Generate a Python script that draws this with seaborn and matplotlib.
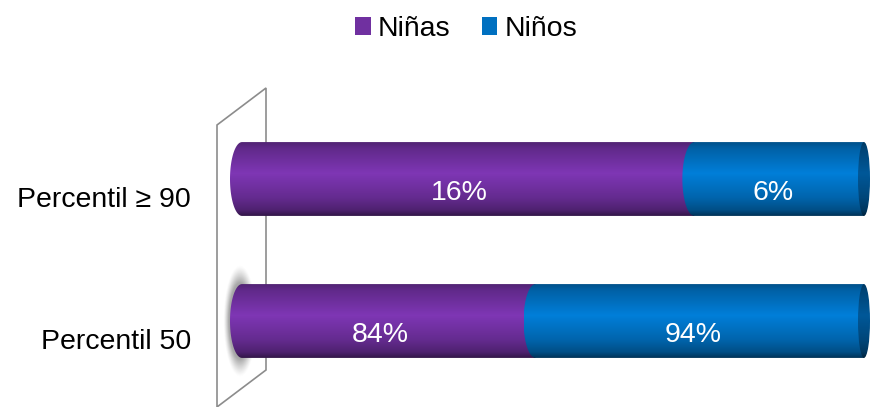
import numpy as np
import pandas as pd
import matplotlib
matplotlib.use("Agg")
import matplotlib.pyplot as plt
from matplotlib.path import Path
from matplotlib.patches import PathPatch, Patch, Polygon, Ellipse
from matplotlib.transforms import ScaledTranslation
import seaborn as sns

# Data
categorias = ["Percentil ≥ 90", "Percentil 50"]
ninas = [16, 84]
ninos = [6, 94]
series = ["Niñas", "Niños"]

PURPLE = np.array([112, 48, 160]) / 255
BLUE = np.array([0, 112, 192]) / 255
END_BLUE = np.array([0, 78, 135]) / 255

sns.set_theme(style="white")
plt.rcParams["font.family"] = ["Liberation Sans", "DejaVu Sans"]
plt.rcParams["text.color"] = "black"

df = pd.DataFrame({"categoria": categorias, "ninas": ninas, "ninos": ninos})
df["ninas_pct"] = df["ninas"] / (df["ninas"] + df["ninos"]) * 100
df["total"] = 100.0

W, H = 872, 407
fig = plt.figure(figsize=(W / 100, H / 100), dpi=100)
fig.patch.set_facecolor("white")

# axes geometry in pixels: data 0 at x=242, 100 at x=864
px_per_unit = (864 - 242) / 100
ax_left_px, ax_right_px = 215, 872
ax_top_px, ax_bot_px = 108, 392
ax = fig.add_axes([ax_left_px / W, 1 - ax_bot_px / H,
                   (ax_right_px - ax_left_px) / W, (ax_bot_px - ax_top_px) / H])
ax.patch.set_alpha(0)

BAR_W = 0.52
sns.barplot(data=df, y="categoria", x="total", color=BLUE, orient="h",
            width=BAR_W, ax=ax, saturation=1)
sns.barplot(data=df, y="categoria", x="ninas_pct", color=PURPLE, orient="h",
            width=BAR_W, ax=ax, saturation=1)

xmin = -(242 - ax_left_px) / px_per_unit
xmax = (ax_right_px - 242) / px_per_unit
ax.set_xlim(xmin, xmax)
ax.set_ylim(1.5, -0.5)

cap = 12 / px_per_unit          # half-width of the rounded left end
end_cap = 6 / px_per_unit       # half-width of the right end face

stops_t = [0.0, 0.08, 0.42, 0.75, 0.92, 1.0]
stops_f = [0.72, 0.86, 1.13, 0.90, 0.70, 0.45]


def gradient(base, n=200):
    t = np.linspace(0, 1, n)
    f = np.interp(t, stops_t, stops_f)
    img = np.clip(base[None, :] * f[:, None], 0, 1)
    return img[:, None, :]


def segment_path(x0, x1, yc, h):
    th = np.linspace(np.pi / 2, 3 * np.pi / 2, 60)
    xs = x0 + cap * np.cos(th)
    ys = yc - (h / 2) * np.sin(th)
    verts = list(zip(xs, ys)) + [(x1, yc + h / 2), (x1, yc - h / 2), (xs[0], ys[0])]
    codes = [Path.MOVETO] + [Path.LINETO] * (len(verts) - 2) + [Path.CLOSEPOLY]
    return Path(verts, codes)


def shaded_segment(x0, x1, yc, h, base, z):
    pp = PathPatch(segment_path(x0, x1, yc, h), facecolor="none", edgecolor="none")
    ax.add_patch(pp)
    im = ax.imshow(gradient(base), extent=(x0 - cap, x1, yc + h / 2, yc - h / 2),
                   origin="upper", aspect="auto", zorder=z, interpolation="bilinear")
    im.set_clip_path(pp)


bars = list(ax.patches)
n = len(categorias)
blue_bars, purple_bars = bars[:n], bars[n:]

for i, (bb, pb) in enumerate(zip(blue_bars, purple_bars)):
    y0, h = pb.get_y(), pb.get_height()
    yc = y0 + h / 2
    split = pb.get_x() + pb.get_width()
    end = bb.get_x() + bb.get_width()
    bb.set_visible(False)
    pb.set_visible(False)

    if i == 1:
        # soft shadow behind the rounded left end
        gx = np.linspace(-4.2, 3.0, 120)
        gy = np.linspace(yc - 0.45, yc + 0.45, 160)
        X, Y = np.meshgrid(gx, gy)
        d = np.sqrt(((X + 0.35) / (15 / px_per_unit)) ** 2 + ((Y - yc) / (51 / 142)) ** 2)
        alpha = 0.55 * np.clip((1.1 - d) / 0.35, 0, 1) ** 1.3
        rgba = np.zeros(X.shape + (4,))
        rgba[..., :3] = 0.38
        rgba[..., 3] = alpha
        ax.imshow(rgba, extent=(gx[0], gx[-1], gy[-1], gy[0]), origin="upper",
                  aspect="auto", zorder=1.5, interpolation="bilinear")

    shaded_segment(0, split, yc, h, PURPLE, 2)
    shaded_segment(split, end, yc, h, BLUE, 2.2)

    # end face of the cylinder
    ef = Ellipse((end, yc), 2 * end_cap, h, facecolor="none", edgecolor="none")
    ax.add_patch(ef)
    im = ax.imshow(gradient(END_BLUE), extent=(end - end_cap, end + end_cap, yc + h / 2, yc - h / 2),
                   origin="upper", aspect="auto", zorder=2.4, interpolation="bilinear")
    im.set_clip_path(ef)

    # value labels
    base_y = yc + 21 / 142
    ax.text(split / 2 - 1.4, base_y, f"{ninas[i]}%", color="white", fontsize=20.5,
            ha="center", va="baseline", zorder=5)
    ax.text((split + end) / 2 - 1.0, base_y, f"{ninos[i]}%", color="white", fontsize=20.5,
            ha="center", va="baseline", zorder=5)

ax.set_xlim(xmin, xmax)
ax.set_ylim(1.5, -0.5)

# back wall
wall_px = [(217, 125), (266, 88), (266, 370), (217, 407)]
wall = Polygon([(x / W, 1 - y / H) for x, y in wall_px], closed=True, fill=False,
               edgecolor="#8c8c8c", linewidth=1.2, transform=fig.transFigure,
               clip_on=False, zorder=0.5)
ax.add_patch(wall)

for s in ax.spines.values():
    s.set_visible(False)
ax.set_xlabel("")
ax.set_ylabel("")
ax.set_xticks([])
ax.tick_params(axis="y", length=0, pad=(ax_left_px - 191) * 0.72, labelsize=20.5,
               labelcolor="black")
shift = ScaledTranslation(0, -18 / 100, fig.dpi_scale_trans)
for lab in ax.get_yticklabels():
    lab.set_transform(lab.get_transform() + shift)

handles = [Patch(facecolor=PURPLE, edgecolor="none"), Patch(facecolor=BLUE, edgecolor="none")]
fig.legend(handles, series, loc="center", bbox_to_anchor=(466 / W, 1 - 29 / H), ncol=2,
           frameon=False, fontsize=20.5, handlelength=0.55, handleheight=0.55,
           handletextpad=0.25, columnspacing=1.1, borderpad=0, labelcolor="black")

fig.savefig("out.png", dpi=100, facecolor="white")
